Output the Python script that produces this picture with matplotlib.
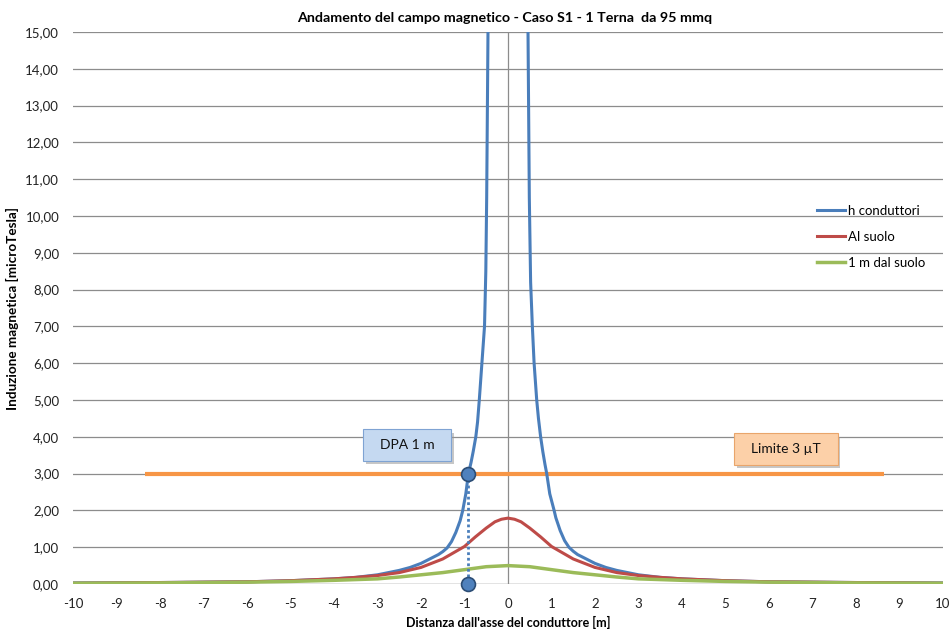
import matplotlib
matplotlib.use("Agg")
import matplotlib.pyplot as plt
from matplotlib.ticker import FuncFormatter, MultipleLocator
import matplotlib.patheffects as pe

plt.rcParams['font.family'] = ['Lato', 'DejaVu Sans']

# ---- data ----
blue_x = [-10, -9, -8, -7, -6, -5, -4, -3.5, -3, -2.5, -2.25, -2, -1.75, -1.6, -1.5, -1.4, -1.3,
          -1.2, -1.1, -1.04, -0.97, -0.91, -0.85, -0.8, -0.74, -0.7, -0.66, -0.6, -0.57, -0.54,
          -0.51, -0.49, -0.47, -0.45,
          0.45, 0.47, 0.49, 0.52, 0.56, 0.6, 0.66, 0.7, 0.75, 0.8, 0.85, 0.89, 0.96, 1.06, 1.1,
          1.2, 1.3, 1.4, 1.5, 1.6, 1.75, 2, 2.25, 2.5, 3, 3.5, 4, 5, 6, 7, 8, 9, 10]
blue_y = [0.03, 0.035, 0.04, 0.05, 0.06, 0.09, 0.14, 0.18, 0.25, 0.37, 0.45, 0.56, 0.71, 0.80, 0.88, 0.98, 1.15,
          1.40, 1.72, 2.0, 2.45, 3.0, 3.3, 3.6, 4.0, 4.4, 5.0, 6.0, 6.5, 7.0,
          8.5, 10.5, 13.5, 16.5,
          16.5, 13.5, 10.5, 8.2, 7.0, 6.0, 5.0, 4.5, 4.0, 3.6, 3.25, 3.0, 2.45, 2.0, 1.80,
          1.45, 1.18, 1.0, 0.89, 0.80, 0.71, 0.56, 0.45, 0.37, 0.25, 0.18, 0.14, 0.09, 0.06, 0.05, 0.04, 0.035, 0.03]

red_x = [-10, -9, -8, -7, -6, -5, -4, -3.5, -3, -2.5, -2, -1.5, -1, -0.75, -0.5, -0.3, -0.15, 0,
         0.15, 0.3, 0.5, 0.75, 1, 1.5, 2, 2.5, 3, 3.5, 4, 5, 6, 7, 8, 9, 10]
red_y = [0.02, 0.03, 0.04, 0.05, 0.06, 0.09, 0.14, 0.18, 0.23, 0.31, 0.45, 0.68, 1.02, 1.28, 1.52, 1.69, 1.76, 1.79,
         1.76, 1.69, 1.52, 1.28, 1.02, 0.68, 0.45, 0.31, 0.23, 0.18, 0.14, 0.09, 0.06, 0.05, 0.04, 0.03, 0.02]

green_x = [-10, -9, -8, -7, -6, -5, -4, -3.5, -3, -2.5, -2, -1.5, -1, -0.5, 0,
           0.5, 1, 1.5, 2, 2.5, 3, 3.5, 4, 5, 6, 7, 8, 9, 10]
green_y = [0.02, 0.025, 0.03, 0.04, 0.05, 0.07, 0.10, 0.12, 0.14, 0.19, 0.25, 0.31, 0.39, 0.47, 0.50,
           0.47, 0.39, 0.31, 0.25, 0.19, 0.14, 0.12, 0.10, 0.07, 0.05, 0.04, 0.03, 0.025, 0.02]

limit_x = [-8.35, 8.65]
limit_y = [3.0, 3.0]

dpa_x = [-0.91, -0.91]
dpa_y = [3.0, 0.0]

series_labels = ["h conduttori", "Al suolo", "1 m dal suolo"]
title = "Andamento del campo magnetico - Caso S1 - 1 Terna  da 95 mmq"
xlabel = "Distanza dall'asse del conduttore [m]"
ylabel = "Induzione magnetica [microTesla]"

# ---- figure ----
fig = plt.figure(figsize=(9.52, 6.31), dpi=100)
ax = fig.add_axes([73/952, 47/631, 870/952, 552/631])

ax.set_xlim(-10, 10)
ax.set_ylim(0, 15)
ax.yaxis.set_major_locator(MultipleLocator(1))
ax.xaxis.set_major_locator(MultipleLocator(1))
ax.yaxis.set_major_formatter(FuncFormatter(lambda v, p: f"{v:.2f}".replace('.', ',')))
ax.xaxis.set_major_formatter(FuncFormatter(lambda v, p: f"{int(round(v))}"))
for s in ax.spines.values():
    s.set_visible(False)
ax.tick_params(axis='both', length=0, labelsize=9.5, colors='#222222')
ax.tick_params(axis='y', pad=10)
ax.tick_params(axis='x', pad=10)
ax.grid(axis='y', color='#8c8c8c', lw=0.9)
ax.set_axisbelow(True)
ax.axvline(0, color='#8c8c8c', lw=0.9, zorder=1)
ax.axhline(0, color='#8c8c8c', lw=0.9, zorder=1)

ax.plot(limit_x, limit_y, color='#f79646', lw=3, zorder=2, solid_capstyle='butt')
ax.plot(blue_x, blue_y, color='#4a7ebb', lw=2.2, label=series_labels[0], zorder=3)
ax.plot(red_x, red_y, color='#be4b48', lw=2.2, label=series_labels[1], zorder=3)
ax.plot(green_x, green_y, color='#9bbb59', lw=2.5, label=series_labels[2], zorder=4)
ax.plot(dpa_x, dpa_y, color='#4a7ebb', lw=2, ls=(0, (1, 1)), zorder=5)
ax.plot(dpa_x, dpa_y, 'o', ms=10, mfc='#4f81bd', mec='#2c4d75', mew=1.2, zorder=6, clip_on=False)

leg = ax.legend(loc='upper left', bbox_to_anchor=(0.842, 0.708), frameon=False,
                handlelength=2.1, handletextpad=0.25, labelspacing=1.05, fontsize=9.5)

# text boxes with shadow (shadow to lower-right)
def box(x, y, txt, fc, ec):
    t = ax.text(x, y, txt, ha='center', va='center', fontsize=10, color='#111111',
                bbox=dict(boxstyle='square,pad=0.7', fc=fc, ec=ec, lw=0.8), zorder=8)
    t.get_bbox_patch().set_path_effects([
        pe.SimplePatchShadow(offset=(2, -2.5), shadow_rgbFace='#9a9a9a', alpha=0.55),
        pe.Normal()])

box(-2.32, 3.78, "  DPA 1 m  ", '#c5d9f1', '#7fa3d3')
box(6.39, 3.67, "  Limite 3 µT  ", '#fcd0a8', '#e9a56b')

fig.text(505/952, 1 - 18/631, title, ha='center', va='center', fontsize=10.3, fontweight='bold')
fig.text(508/952, 1 - 622/631, xlabel, ha='center', va='center', fontsize=9, fontweight='bold')
fig.text(12/952, 1 - 308/631, ylabel, ha='center', va='center', rotation=90, fontsize=9.7, fontweight='bold')

fig.savefig("out.png", dpi=100)
